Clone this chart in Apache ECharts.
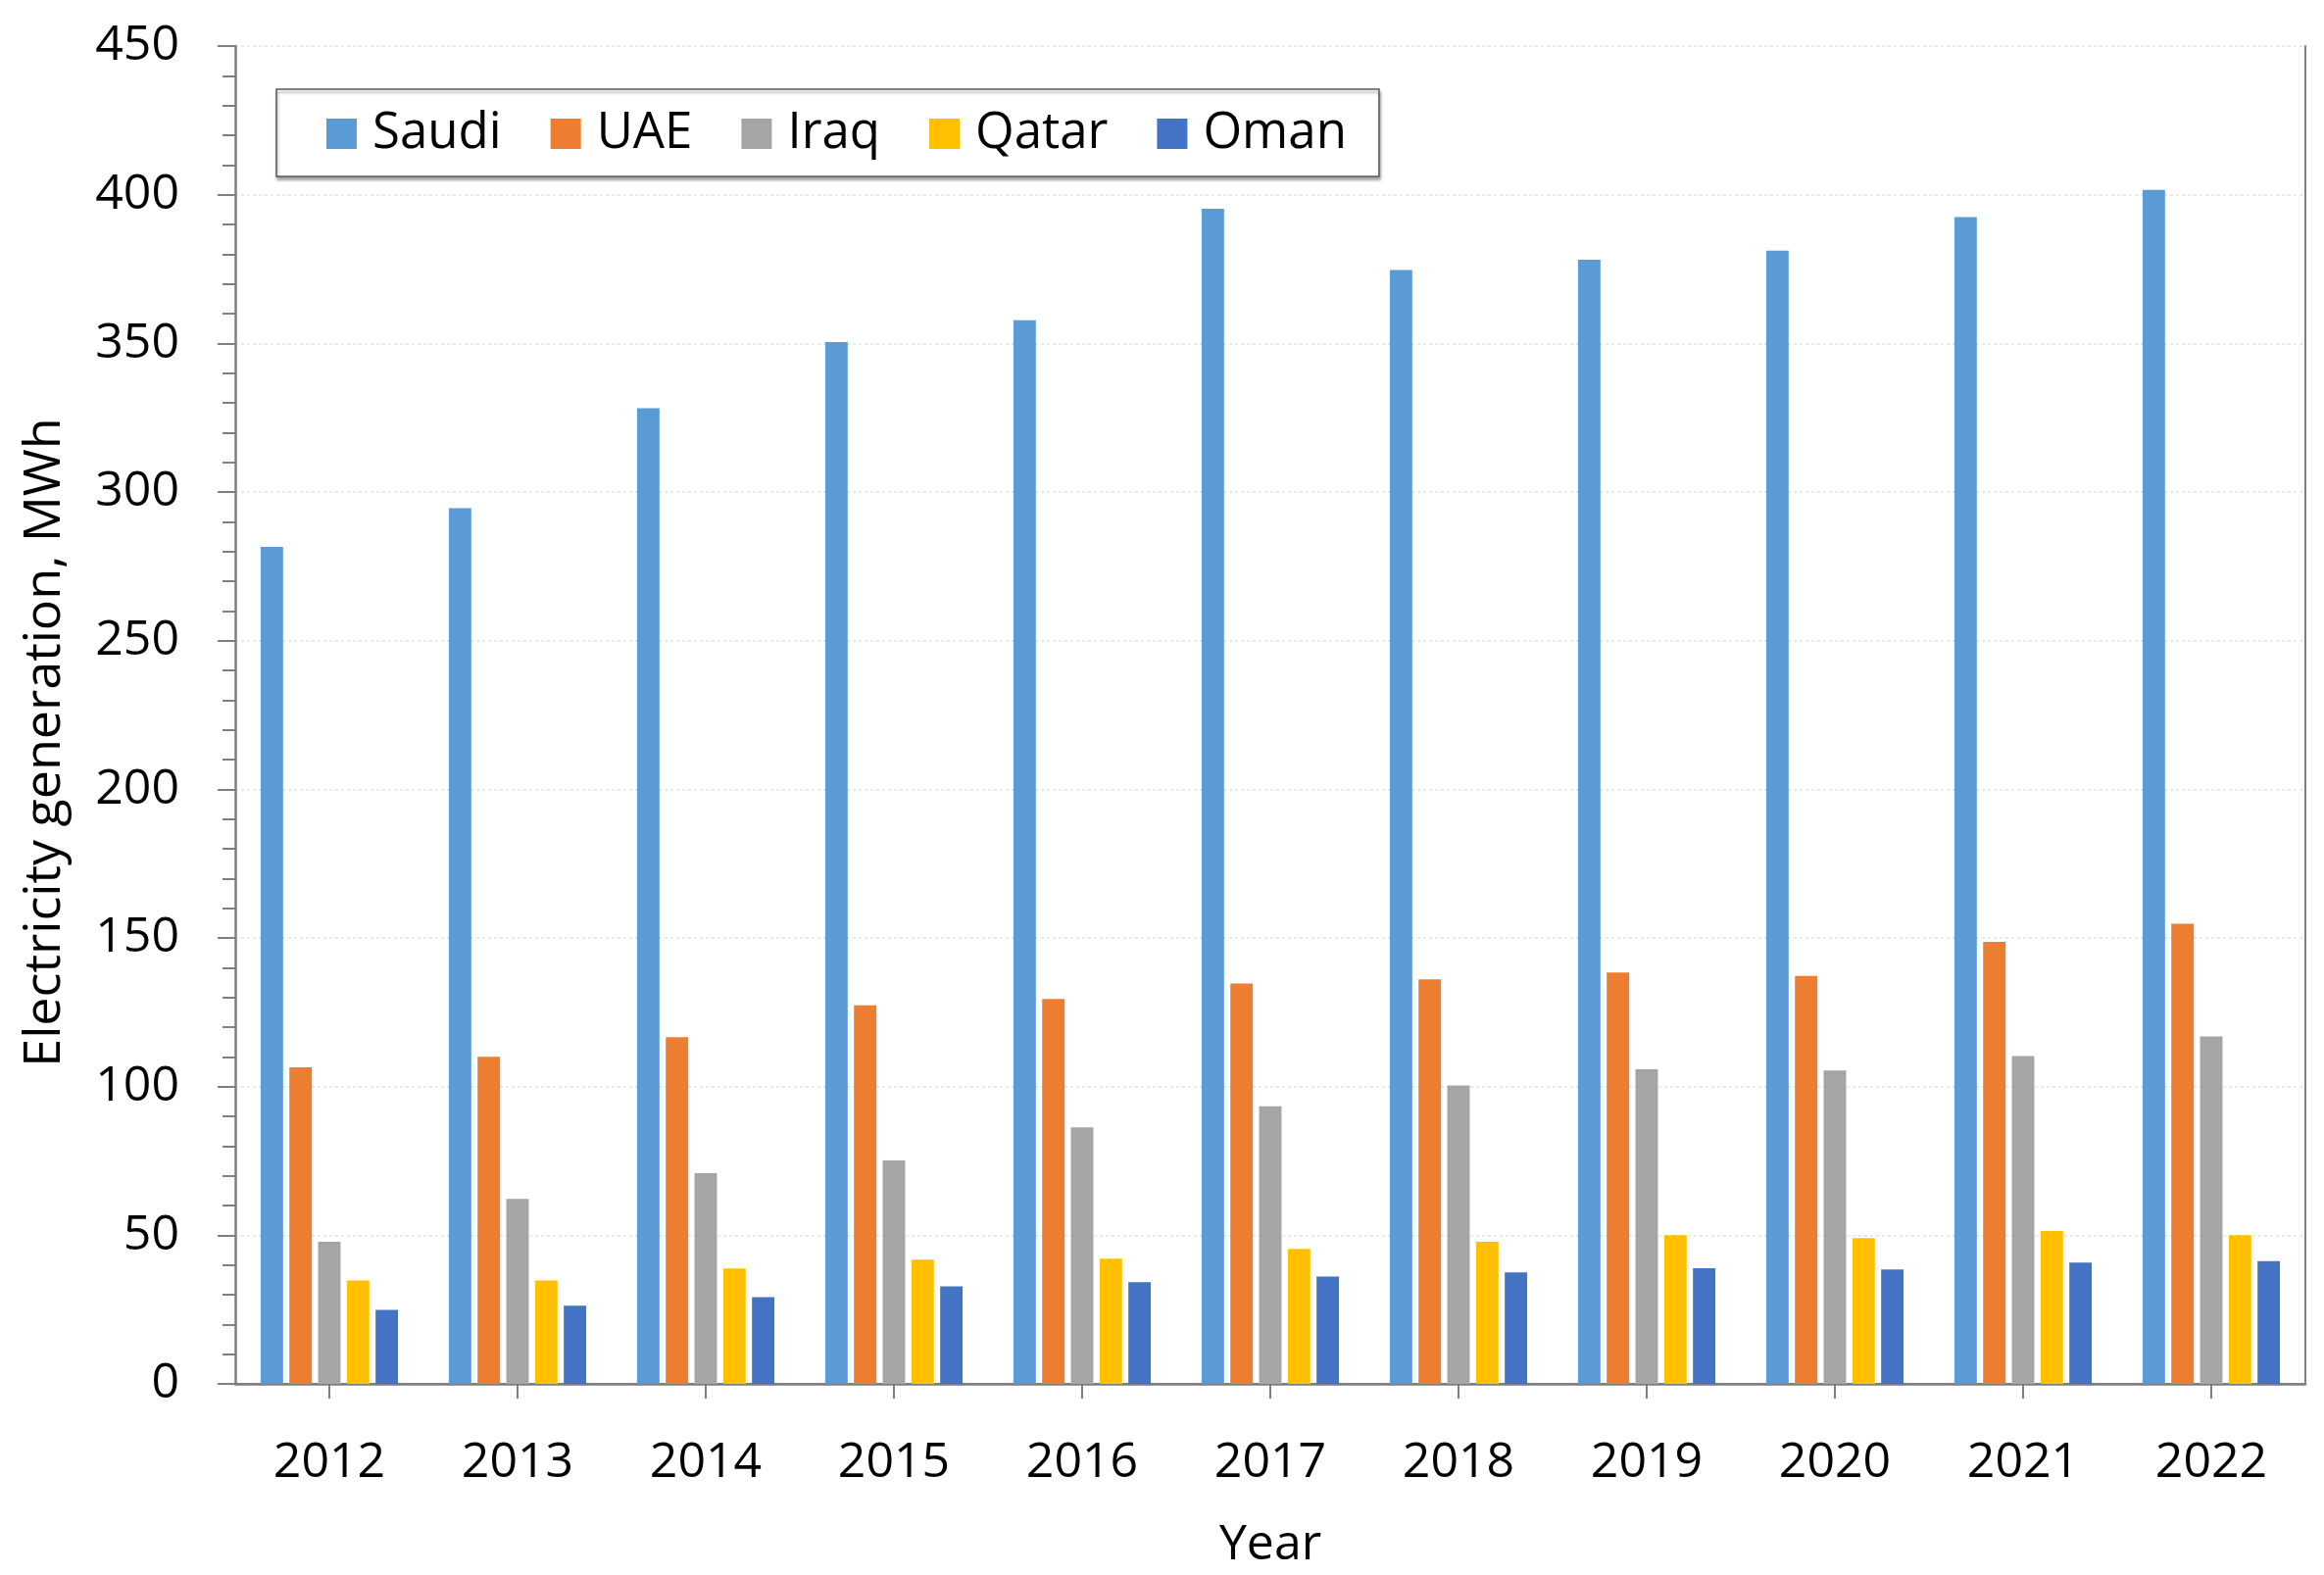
<!DOCTYPE html>
<html>
<head>
<meta charset="utf-8">
<script src="https://cdn.jsdelivr.net/npm/echarts@6/dist/echarts.min.js"></script>
<style>
html,body{margin:0;padding:0;background:#fff;}
#chart{width:2371px;height:1607px;}
</style>
</head>
<body>
<div id="chart"></div>
<script>
const years = ['2012','2013','2014','2015','2016','2017','2018','2019','2020','2021','2022'];
const saudi = [281.5, 294.6, 328.2, 350.4, 357.8, 395.3, 374.7, 378.1, 381.2, 392.5, 401.6];
const uae   = [106.5, 110.0, 116.6, 127.3, 129.5, 134.7, 136.1, 138.4, 137.2, 148.7, 154.8];
const iraq  = [47.8, 62.2, 70.9, 75.2, 86.3, 93.4, 100.4, 105.8, 105.4, 110.3, 116.9];
const qatar = [34.8, 34.8, 38.8, 41.8, 42.1, 45.4, 47.8, 50.0, 49.0, 51.4, 50.0];
const oman  = [24.9, 26.3, 29.2, 32.8, 34.2, 36.1, 37.5, 38.9, 38.5, 40.8, 41.3];

const seriesNames = ['Saudi','UAE','Iraq','Qatar','Oman'];
const seriesData = [saudi, uae, iraq, qatar, oman];
const colors = ['#5B9BD5','#ED7D31','#A5A5A5','#FFC000','#4472C4'];

const FONT = 'Open Sans';
const AXIS_COLOR = '#7f7f7f';
const chart = echarts.init(document.getElementById('chart'));
chart.setOption({
  backgroundColor: '#ffffff',
  animation: false,
  textStyle: { fontFamily: FONT },
  grid: {
    left: 240, right: 19, top: 47, bottom: 193,
    show: false
  },
  legend: {
    left: 282, top: 91,
    orient: 'horizontal',
    itemWidth: 31, itemHeight: 31, itemGap: 50,
    padding: [20, 33, 18, 51],
    borderColor: '#595959', borderWidth: 1.5,
    backgroundColor: '#ffffff',
    shadowColor: 'rgba(0,0,0,0.35)', shadowBlur: 3, shadowOffsetX: 1, shadowOffsetY: 3,
    icon: 'rect',
    textStyle: { fontFamily: FONT, fontSize: 51, color: '#000', padding: [0, 0, 0, 11] },
    data: seriesNames
  },
  xAxis: [{
    type: 'category',
    data: years,
    boundaryGap: true,
    name: 'Year',
    nameLocation: 'middle',
    nameGap: 140,
    nameTextStyle: { fontFamily: FONT, fontSize: 50, color: '#000' },
    axisLine: { show: true, lineStyle: { color: AXIS_COLOR, width: 2.5 } },
    axisTick: { show: true, alignWithLabel: true, inside: false, length: 15, lineStyle: { color: AXIS_COLOR, width: 2 } },
    axisLabel: { fontFamily: FONT, fontSize: 50, color: '#000', margin: 56 },
    splitLine: { show: false }
  }, {
    type: 'category',
    data: years,
    position: 'top',
    axisLine: { show: true, lineStyle: { color: AXIS_COLOR, width: 2 } },
    axisTick: { show: false },
    axisLabel: { show: false },
    splitLine: { show: false }
  }],
  yAxis: [{
    type: 'value',
    min: 0, max: 450, interval: 50,
    name: 'Electricity generation, MWh',
    nameLocation: 'middle',
    nameGap: 168,
    nameTextStyle: { fontFamily: FONT, fontSize: 52, color: '#000', padding: [0, 56, 0, 0] },
    axisLine: { show: true, lineStyle: { color: AXIS_COLOR, width: 2.5 } },
    axisTick: { show: true, inside: false, length: 18, lineStyle: { color: AXIS_COLOR, width: 2 } },
    minorTick: { show: true, splitNumber: 5, length: 13, lineStyle: { color: AXIS_COLOR, width: 2 } },
    axisLabel: { fontFamily: FONT, fontSize: 50, color: '#000', margin: 57 },
    splitLine: { show: true, lineStyle: { color: '#e8e8e8', width: 2, type: [3, 3] } }
  }, {
    type: 'value',
    min: 0, max: 450, interval: 50,
    position: 'right',
    axisLine: { show: true, lineStyle: { color: AXIS_COLOR, width: 2 } },
    axisTick: { show: false },
    axisLabel: { show: false },
    splitLine: { show: false }
  }],
  series: seriesNames.map((n, i) => ({
    name: n,
    type: 'bar',
    xAxisIndex: 0,
    yAxisIndex: 0,
    data: seriesData[i],
    barGap: '28%',
    barCategoryGap: '27%',
    itemStyle: { color: colors[i] }
  }))
});
</script>
</body>
</html>
